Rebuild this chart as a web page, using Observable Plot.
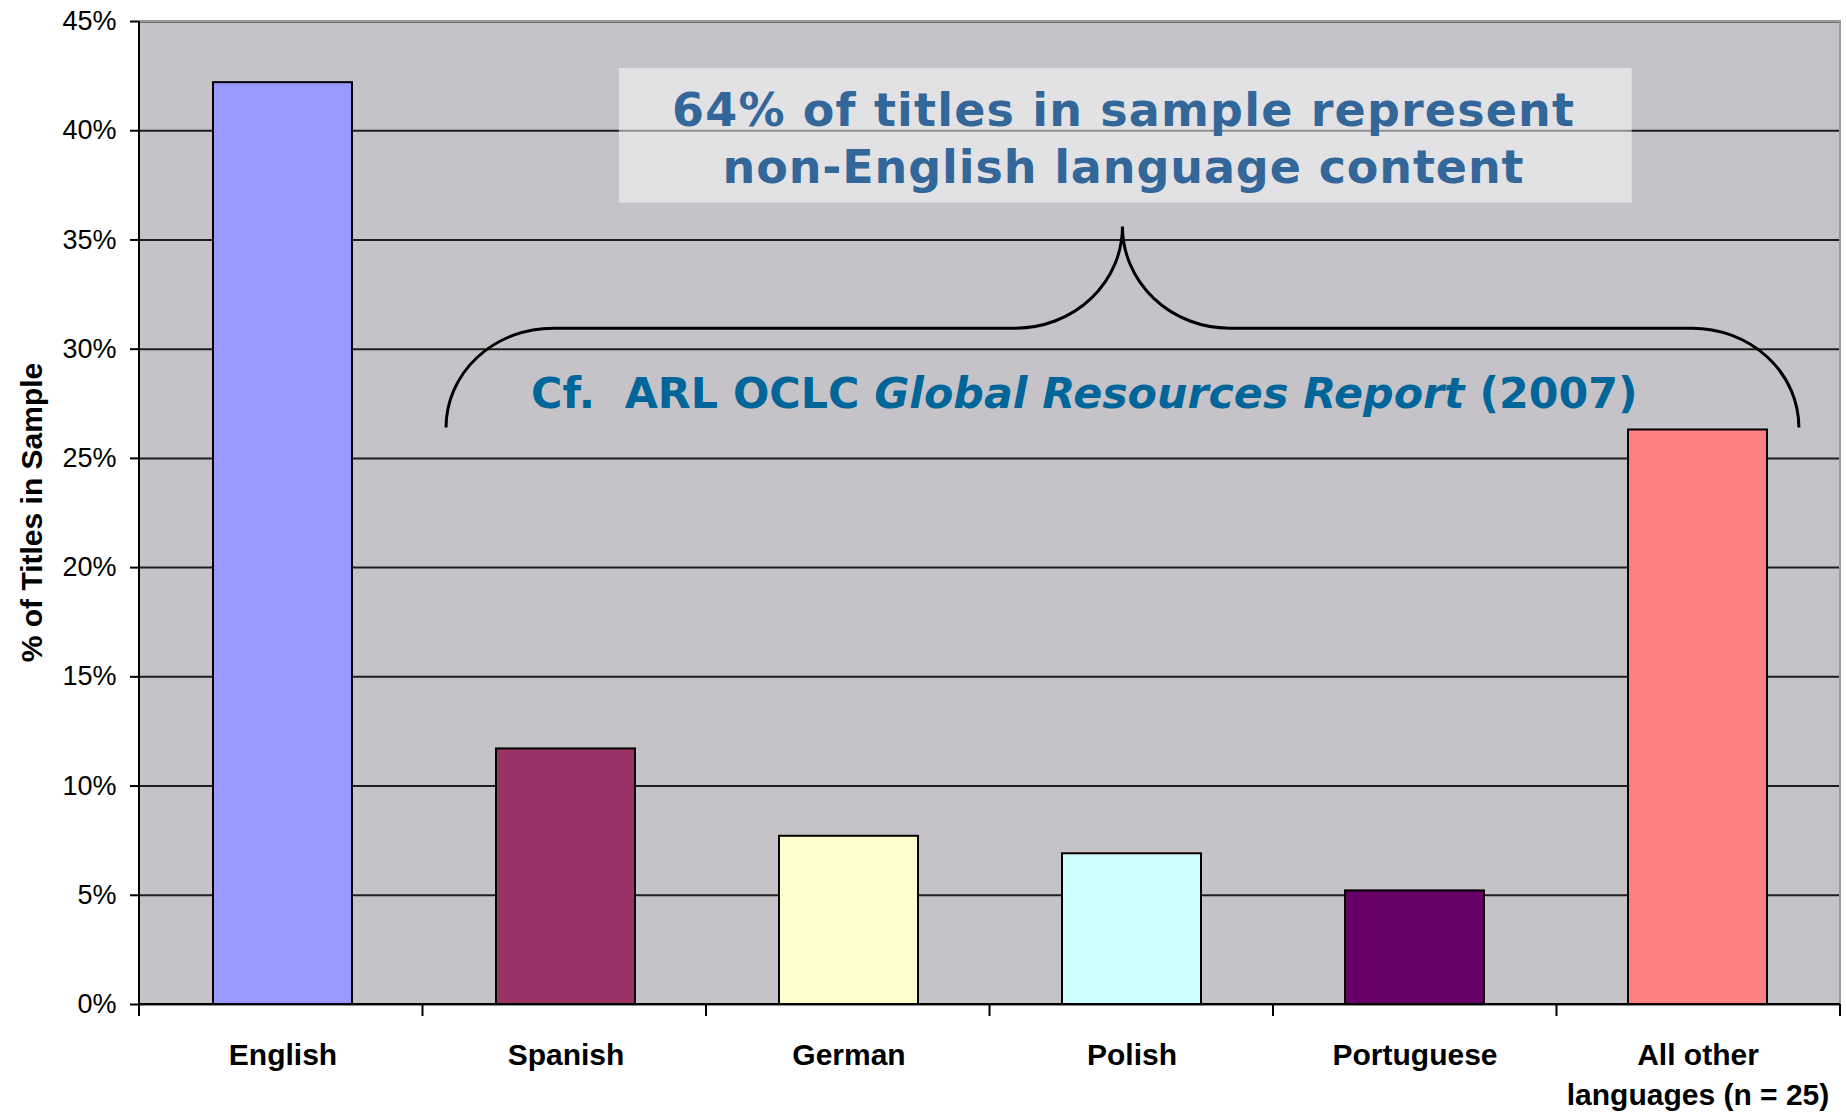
<!DOCTYPE html>
<html>
<head>
<meta charset="utf-8">
<script src="https://cdn.jsdelivr.net/npm/d3@7"></script>
<script src="https://cdn.jsdelivr.net/npm/@observablehq/plot@0.6"></script>
<style>
  html, body { margin: 0; padding: 0; background: #ffffff; }
  #chart svg { display: block; }
</style>
</head>
<body>
<div id="chart"></div>
<script>
// ---- data ----
const languages = ["English", "Spanish", "German", "Polish", "Portuguese", "All other\nlanguages (n = 25)"];
const shares = [42.2, 11.7, 7.7, 6.9, 5.2, 26.3];
const barColors = ["#9999FF", "#993366", "#FFFFCC", "#CCFFFF", "#660066", "#FF8080"];
const yTicks = [0, 5, 10, 15, 20, 25, 30, 35, 40, 45];
const yLabel = "% of Titles in Sample";
const calloutLines = ["64% of titles in sample represent", "non-English language content"];
const citationParts = [
  {text: "Cf.\u00A0\u00A0ARL OCLC ", italic: false},
  {text: "Global Resources Report", italic: true},
  {text: " (2007)", italic: false}
];
// annotation anchors: x in category units (0..6 across the plot), y in percent
const calloutBox = {x1: 1.693, x2: 5.265, y1: 36.69, y2: 42.84};
const calloutText = {x: 3.471, y: [40.2, 37.6]};
const brace = {xL: 1.083, xT: 3.469, xR: 5.855, yEnd: 26.39, yH: 30.94, yTip: 35.59, rx: 0.377};
const citationAnchor = {x: 1.383, y: 27.28, width: 1107};

const rows = languages.map((language, i) => ({language, share: shares[i]}));

function decorations(index, scales, values, dims) {
  const {width, height, marginLeft: ml, marginRight: mr, marginTop: mt, marginBottom: mb} = dims;
  const xu = d3.scaleLinear([0, languages.length], [ml, width - mr]);
  const y = scales.y;
  const g = d3.create("svg:g");
  const x0 = ml, x1 = width - mr, yb = height - mb, yt = mt;

  // plot border (top/right grey), axes (left/bottom black)
  g.append("path").attr("d", `M${x0},${yt}H${x1}V${yb}`)
    .attr("fill", "none").attr("stroke", "#9a9a9a").attr("stroke-width", 2);
  g.append("path").attr("d", `M${x0},${yt}V${yb}H${x1}`)
    .attr("fill", "none").attr("stroke", "#000").attr("stroke-width", 2);
  // x tick marks at category boundaries
  for (let i = 0; i <= languages.length; i++) {
    g.append("line").attr("x1", xu(i)).attr("x2", xu(i)).attr("y1", yb).attr("y2", yb + 12)
      .attr("stroke", "#000").attr("stroke-width", 2);
  }
  // y axis label
  g.append("text")
    .attr("transform", `translate(41.5,${(yt + yb) / 2}) rotate(-90)`)
    .attr("text-anchor", "middle")
    .attr("font-family", "'Liberation Sans', Arial, sans-serif")
    .attr("font-weight", "bold").attr("font-size", 30).attr("fill", "#000")
    .text(yLabel);

  // callout box
  g.append("rect")
    .attr("x", xu(calloutBox.x1)).attr("width", xu(calloutBox.x2) - xu(calloutBox.x1))
    .attr("y", y(calloutBox.y2)).attr("height", y(calloutBox.y1) - y(calloutBox.y2))
    .attr("fill", "#ffffff").attr("fill-opacity", 0.5);
  calloutLines.forEach((line, i) => {
    g.append("text")
      .attr("x", xu(calloutText.x)).attr("y", y(calloutText.y[i]))
      .attr("text-anchor", "middle")
      .attr("font-family", "'DejaVu Sans', Verdana, sans-serif")
      .attr("font-weight", "bold").attr("font-size", 46).attr("fill", "#336699")
      .attr("textLength", i === 0 ? 902 : 801).attr("lengthAdjust", "spacing")
      .text(line);
  });

  // curly brace
  const bx = (v) => xu(v), by = (v) => y(v);
  const rxp = xu(brace.rx) - xu(0);
  const ry1 = by(brace.yEnd) - by(brace.yH);
  const ry2 = by(brace.yH) - by(brace.yTip);
  const d = [
    `M${bx(brace.xL)},${by(brace.yEnd)}`,
    `A${rxp},${ry1} 0 0 1 ${bx(brace.xL) + rxp},${by(brace.yH)}`,
    `H${bx(brace.xT) - rxp}`,
    `A${rxp},${ry2} 0 0 0 ${bx(brace.xT)},${by(brace.yTip)}`,
    `A${rxp},${ry2} 0 0 0 ${bx(brace.xT) + rxp},${by(brace.yH)}`,
    `H${bx(brace.xR) - rxp}`,
    `A${rxp},${ry1} 0 0 1 ${bx(brace.xR)},${by(brace.yEnd)}`
  ].join("");
  g.append("path").attr("d", d).attr("fill", "none").attr("stroke", "#000").attr("stroke-width", 3);

  // citation
  const t = g.append("text")
    .attr("class", "citation")
    .attr("x", xu(citationAnchor.x)).attr("y", y(citationAnchor.y))
    .attr("text-anchor", "start")
    .attr("font-family", "'DejaVu Sans', Verdana, sans-serif")
    .attr("font-weight", "bold").attr("font-size", 41).attr("fill", "#006699");
  citationParts.forEach(part => {
    t.append("tspan").attr("font-style", part.italic ? "italic" : "normal").text(part.text);
  });
  return g.node();
}

const chart = Plot.plot({
  width: 1846,
  height: 1112,
  marginLeft: 139,
  marginRight: 6,
  marginTop: 21,
  marginBottom: 108,
  style: {fontFamily: "'Liberation Sans', Arial, sans-serif", background: "#ffffff", color: "#000"},
  x: {domain: languages, paddingInner: 0.51, paddingOuter: 0.255, label: null},
  y: {domain: [0, 45], label: null},
  color: {domain: languages, range: barColors},
  marks: [
    Plot.frame({fill: "#C5C3C7", stroke: null}),
    Plot.gridY(yTicks, {stroke: "#1e1e1e", strokeOpacity: 1, strokeWidth: 2}),
    Plot.barY(rows, {x: "language", y: "share", fill: "language", stroke: "#000", strokeWidth: 2}),
    Plot.axisY(yTicks, {tickFormat: d => d + "%", tickSize: 9, tickPadding: 14, fontSize: 27,
      stroke: "#000", strokeWidth: 2, fill: "#000", label: null}),
    Plot.axisX({tickSize: 0, tickPadding: 32, fontSize: 30, fontWeight: "bold", lineHeight: 1.333,
      fill: "#000", label: null}),
    decorations
  ]
});
document.getElementById("chart").appendChild(chart);

// fit the citation to the width it takes in the reference
const cit = chart.querySelector(".citation");
if (cit) {
  const w = cit.getComputedTextLength();
  if (w > 0) cit.setAttribute("font-size", 41 * citationAnchor.width / w);
}
</script>
</body>
</html>
